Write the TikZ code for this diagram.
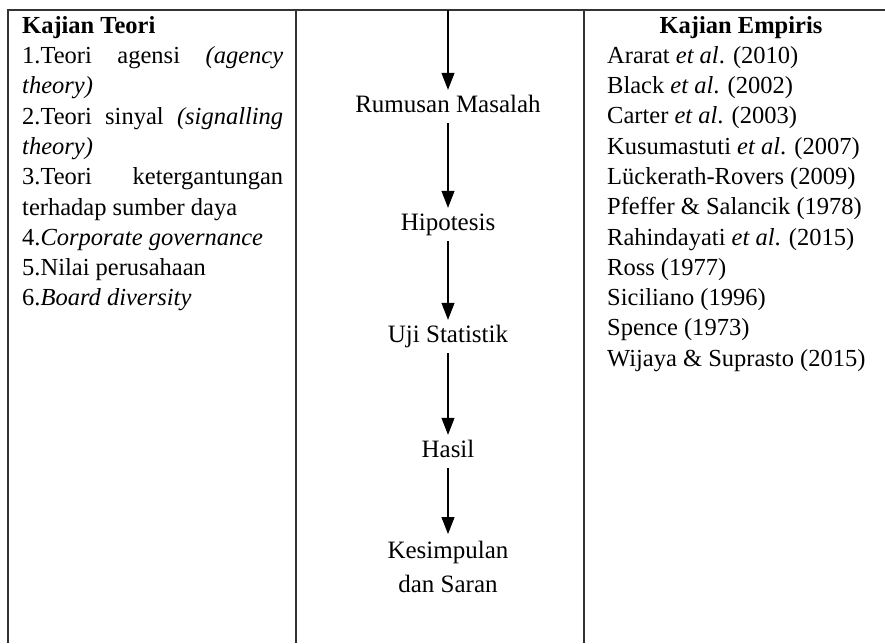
\documentclass[tikz,border=0pt]{standalone}
\usepackage{fontspec}
\setmainfont{Liberation Serif}
\usetikzlibrary{arrows.meta}
\begin{document}
\begin{tikzpicture}[x=1pt,y=-1pt,
  rule/.style={line width=1.6pt, draw=black!80},
  flow/.style={line width=1.1pt, -{Triangle[width=13pt,length=17pt]}},
  stage/.style={font=\fontsize{25}{30}\selectfont, inner xsep=2pt, inner ysep=4pt,
                text height=18pt, text depth=7pt, anchor=base},
  col/.style={font=\fontsize{24.5}{30.3}\selectfont, inner sep=0pt},
]
\useasboundingbox (0,0) rectangle (885,643);
% table lines
\draw[rule] (885,10) -- (8,10) -- (8,643);
\draw[rule] (296,10) -- (296,643);
\draw[rule] (584,10) -- (584,643);

% left column
\node[col, anchor=north west, text width=261pt, align=justify] (teori) at (22,16)
{\textbf{Kajian Teori}\\
1.Teori agensi \textit{(agency}\linebreak
\textit{theory)}\\
2.Teori sinyal \textit{(signalling}\linebreak
\textit{theory)}\\
3.Teori ketergantungan\linebreak
terhadap sumber daya\\
4.\textit{Corporate governance}\\
5.Nilai perusahaan\\
6.\textit{Board diversity}};

% right column
\node[col, anchor=base] (emph) at (741,33) {\textbf{Kajian Empiris}};
\node[col, anchor=north west, align=left] (emp) at (607,46)
{Ararat \textit{et al}. (2010)\\
Black \textit{et al}. (2002)\\
Carter \textit{et al}. (2003)\\
Kusumastuti \textit{et al}. (2007)\\
Lückerath-Rovers (2009)\\
Pfeffer \& Salancik (1978)\\
Rahindayati \textit{et al}. (2015)\\
Ross (1977)\\
Siciliano (1996)\\
Spence (1973)\\
Wijaya \& Suprasto (2015)};

% middle column
\coordinate (start) at (448,10);
\node[stage] (rm) at (448,112) {Rumusan Masalah};
\node[stage] (hip) at (448,230) {Hipotesis};
\node[stage] (uji) at (448,342) {Uji Statistik};
\node[stage] (has) at (448,457) {Hasil};
\node[font=\fontsize{25}{34}\selectfont, anchor=north, align=center, inner xsep=2pt, inner ysep=7pt]
  (kes) at (448,534) {Kesimpulan\\dan Saran};

\draw[flow] (start) -- (rm.north);
\draw[flow] (rm) -- (hip);
\draw[flow] (hip) -- (uji);
\draw[flow] (uji) -- (has);
\draw[flow] (has) -- (kes);
\end{tikzpicture}
\end{document}
